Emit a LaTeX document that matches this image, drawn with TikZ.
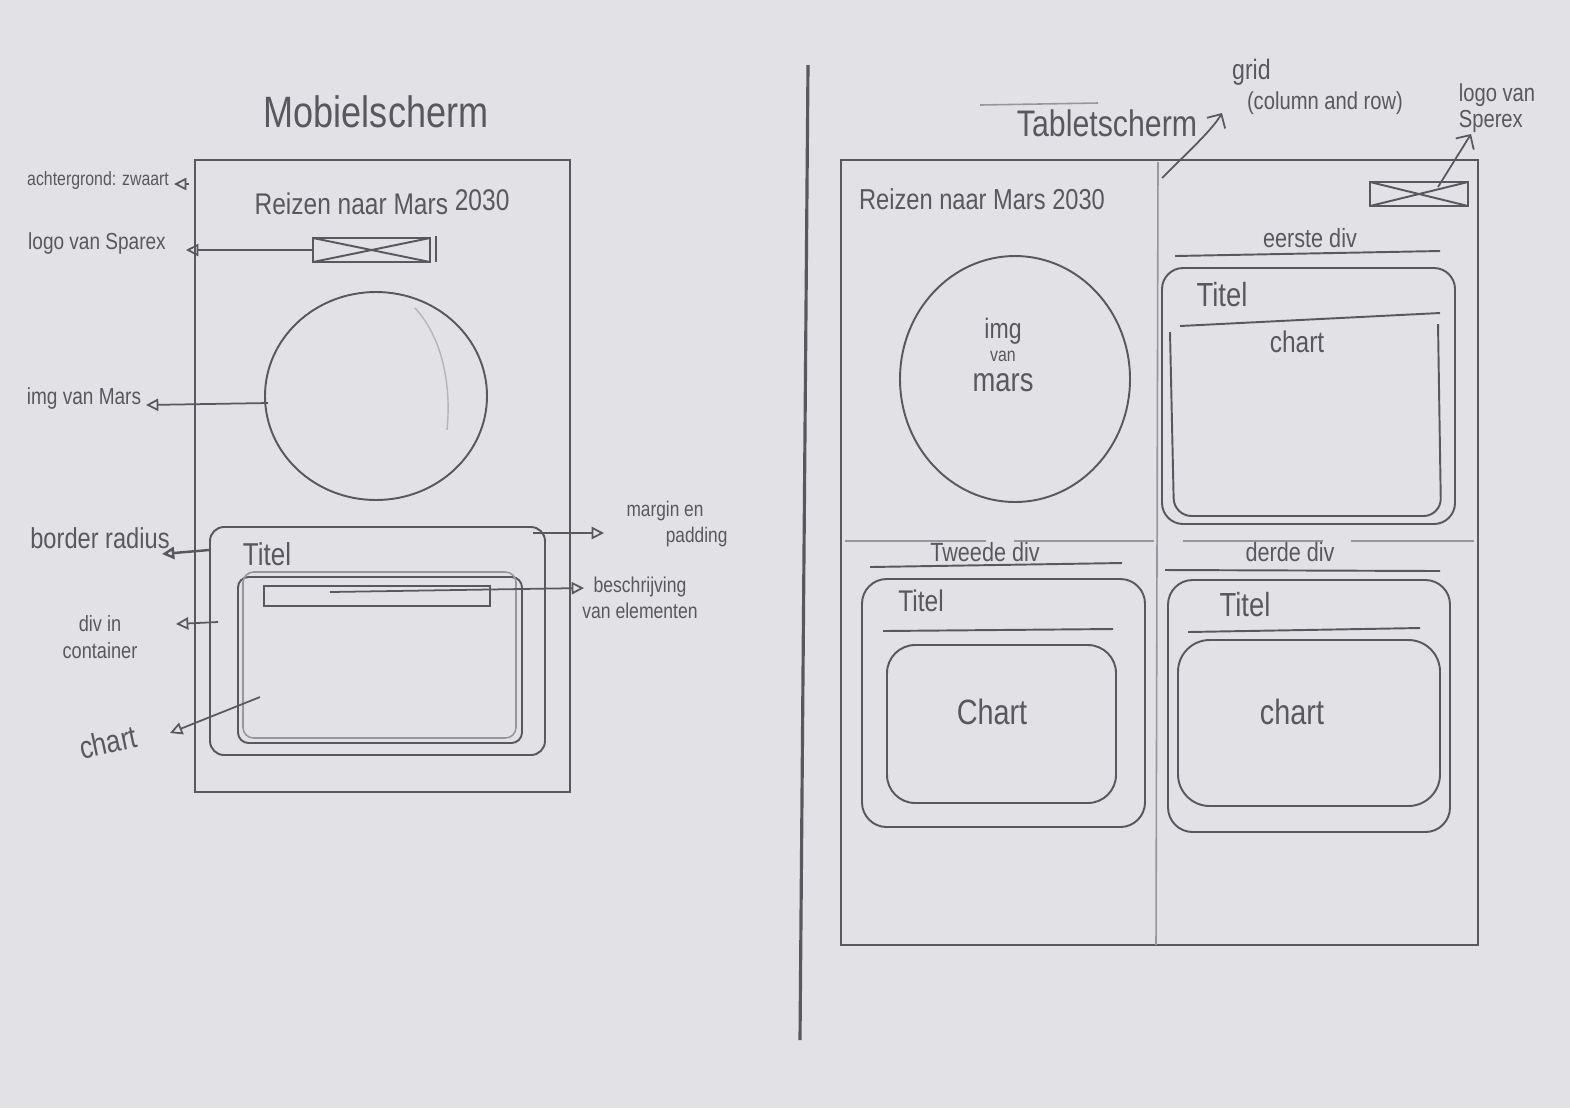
\documentclass[tikz,border=0pt]{standalone}
\usepackage{fontspec}
\setmainfont{Liberation Sans}[FakeStretch=0.82]
\usetikzlibrary{arrows.meta,calc}
\definecolor{paper}{RGB}{226,226,230}
\definecolor{pencil}{RGB}{88,88,94}
\definecolor{faint}{RGB}{150,150,156}

\begin{document}
\begin{tikzpicture}[x=0.01cm, y=-0.01cm,
  every node/.style={text=pencil, inner sep=1pt},
  lbl/.style={font=\fontsize{#1}{1.2\dimexpr#1pt\relax}\selectfont, align=center},
  frame/.style={draw=pencil, line width=0.65pt},
  sketch/.style={draw=pencil, line width=0.55pt},
  soft/.style={draw=faint, line width=0.45pt},
  conn/.style={draw=pencil, line width=0.5pt, -{Triangle[open, length=3.5pt, width=3.5pt]}},
  hook/.style={draw=pencil, line width=0.5pt, -{Straight Barb[length=3pt, width=6pt]}},
]
% sheet of paper
\fill[paper] (0,0) rectangle (1570,1108);
\useasboundingbox (0,0) rectangle (1570,1108);

% divider between the two screens
\draw[pencil, line width=0.9pt] (808,65) -- (800,1040);

% ================= mobile screen =================
\node[lbl=12.5] (tMob) at (376,112) {Mobielscherm};
\draw[frame] (195,160) rectangle (570,792);
\node[lbl=8.5] (rL) at (382,202) {Reizen naar Mars \raisebox{1pt}{2030}};

% logo placeholder
\draw[sketch] (313,238) rectangle (430,262);
\draw[sketch] (313,238) -- (430,262) (313,262) -- (430,238);
\draw[sketch] (436,236) -- (436,262);
\coordinate (logoL) at (313,250);

% image of Mars
\draw[sketch] (376,396) ellipse [x radius=111, y radius=104];
\draw[faint!60!paper, line width=0.4pt] (415,308) .. controls (440,335) and (452,380) .. (447,430);
\coordinate (marsL) at (268,403);

% container with title and chart
\draw[sketch, rounded corners=4] (210,527) rectangle (545,755);
\node[lbl=9] (titelL) at (267,554) {Titel};
\draw[sketch, rounded corners=3] (238,577) rectangle (522,743);
\draw[soft, rounded corners=3] (243,572) rectangle (516,738);
\draw[sketch] (264,586) rectangle (490,606);
\coordinate (boxL) at (209,550);
\coordinate (boxR) at (533,533);
\coordinate (barL) at (330,592);
\coordinate (divL) at (218,622);
\coordinate (chartL) at (260,697);

% annotations on the left
\node[lbl=5.5, anchor=west] (lBg) at (23,180) {achtergrond: zwaart};
\coordinate (bgFrom) at (189,184);
\coordinate (bgTip) at (174,184);
\draw[conn] (bgFrom) -- (bgTip);

\node[lbl=6.6] (lLogo) at (97,243) {logo van Sparex};
\coordinate (logoTip) at (186,250);
\draw[conn] (logoL) -- (logoTip);

\node[lbl=6.6] (lMars) at (84,398) {img van Mars};
\coordinate (marsTip) at (146,405);
\draw[conn] (marsL) -- (marsTip);

\node[lbl=8.2] (lBr) at (100,538) {border radius};
\coordinate (brTip) at (162,554);
\draw[conn, line width=0.7pt] (boxL) -- (brTip);

\node[lbl=6.3] (lDiv) at (100,637) {div in\\container};
\coordinate (divTip) at (176,624);
\draw[conn] (divL) -- (divTip);

\node[lbl=9, rotate=12] (lChart) at (108,742) {chart};
\coordinate (chartTip) at (170,733);
\draw[conn] (chartL) -- (chartTip);

\node[lbl=6] (lMargin) at (665,524) {margin en\\\hspace*{3em}padding};
\coordinate (marginTip) at (604,533);
\draw[conn] (boxR) -- (marginTip);

\node[lbl=6.1] (lDesc) at (640,598) {beschrijving\\van elementen};
\coordinate (descTip) at (584,588);
\draw[conn] (barL) -- (descTip);

% ================= tablet screen =================
\draw[soft] (980,105) -- (1098,103);
\node[lbl=10.5] (tTab) at (1107,123) {Tabletscherm};
\node[lbl=7, align=left, anchor=north west] (lGrid) at (1228,55) {{\fontsize{8}{9}\selectfont grid}\\\hspace*{0.6em}(column and row)};

\draw[frame] (841,160) rectangle (1478,945);
% grid lines
\draw[soft] (1158,162) -- (1156,945);
\draw[soft, dash pattern=on 40pt off 8pt] (845,541) -- (1474,541);
\coordinate (gridFrom) at (1162,178);
\coordinate (gridTip) at (1222,113);
\draw[hook] (gridFrom) .. controls (1190,150) and (1212,130) .. (gridTip);

\node[lbl=8.2] (rT) at (982,199) {Reizen naar Mars 2030};

% logo placeholder
\draw[sketch] (1370,182) rectangle (1468,206);
\draw[sketch] (1370,182) -- (1468,206) (1370,206) -- (1468,182);
\coordinate (logoT) at (1438,187);
\node[font=\fontsize{7}{7.6}\selectfont, align=left] (lLogoT) at (1497,108) {logo van\\Sperex};
\coordinate (logoTTip) at (1471,134);
\draw[hook] (logoT) -- (logoTTip);

% image of Mars
\draw[sketch] (1015,379) ellipse [x radius=115, y radius=123];
\node[lbl=8] (marsT) at (1003,355) {img\\[-3pt]{\fontsize{5.5}{6}\selectfont van}\\[-1pt]{\fontsize{9.5}{10}\selectfont mars}};

% first div
\node[lbl=7.5] (d1) at (1310,238) {eerste div};
\draw[sketch] (1175,256) -- (1440,251);
\draw[sketch, rounded corners=6] (1162,268) rectangle (1455,524);
\node[lbl=9.5] (titel1) at (1222,295) {Titel};
\draw[sketch] (1180,326) -- (1440,313);
\draw[sketch, rounded corners=5] (1170,332) -- (1174,516) -- (1441,516) -- (1438,324);
\node[lbl=8.5] (chart1) at (1297,342) {chart};

% second div
\node[lbl=7.5] (d2) at (985,552) {Tweede div};
\draw[sketch] (870,567) -- (1122,563);
\draw[sketch, rounded corners=7] (862,579) rectangle (1145,827);
\node[lbl=8.5] (titel2) at (921,601) {Titel};
\draw[sketch] (883,631) -- (1113,629);
\draw[sketch, rounded corners=8] (887,645) rectangle (1116,803);
\node[lbl=10] (chart2) at (992,712) {Chart};

% third div
\node[lbl=7.5] (d3) at (1290,552) {derde div};
\draw[sketch] (1165,570) -- (1440,571);
\draw[sketch, rounded corners=7] (1168,580) rectangle (1450,832);
\node[lbl=9.5] (titel3) at (1245,605) {Titel};
\draw[sketch] (1188,632) -- (1420,628);
\draw[sketch, rounded corners=9] (1178,640) rectangle (1440,806);
\node[lbl=10] (chart3) at (1292,712) {chart};

\end{tikzpicture}
\end{document}
